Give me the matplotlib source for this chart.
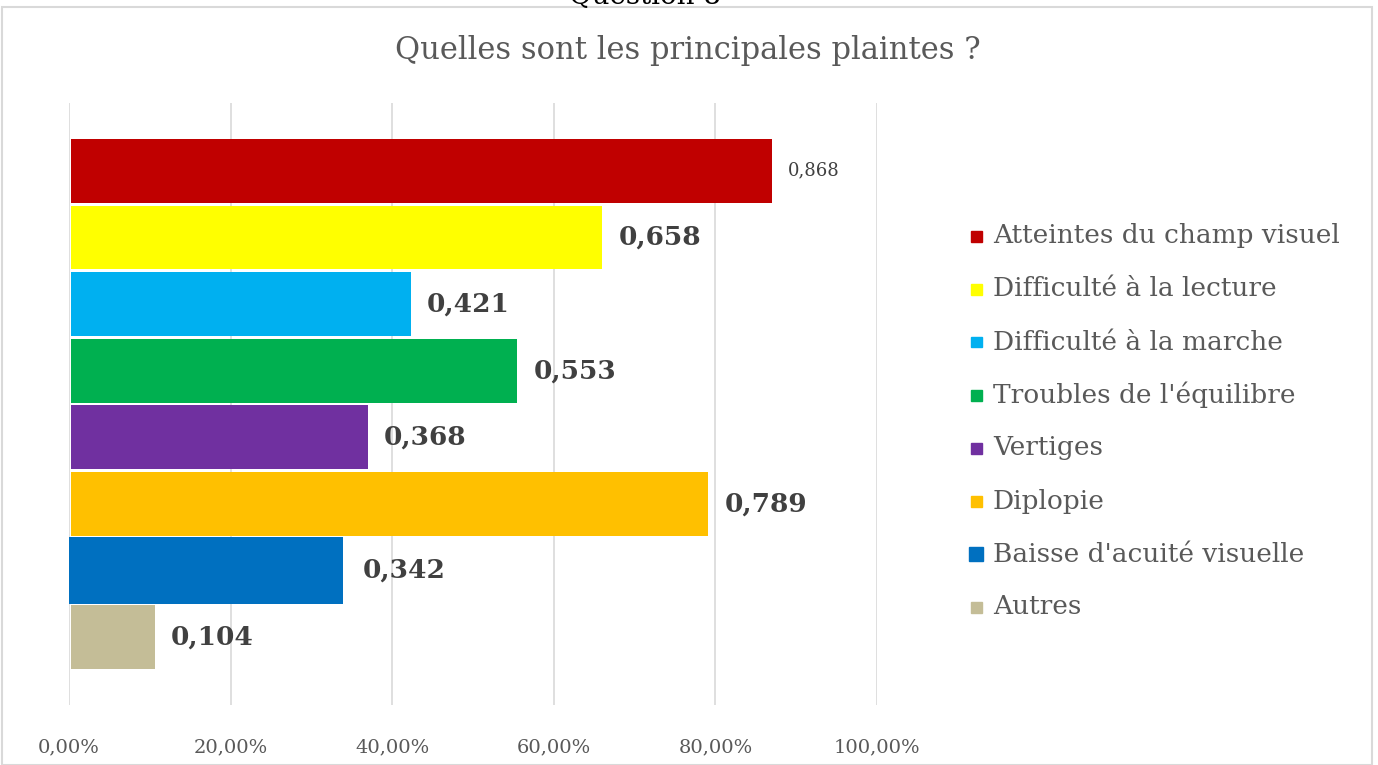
import matplotlib
matplotlib.use("Agg")
import matplotlib.pyplot as plt
from matplotlib.patches import Rectangle

categories = ["Atteintes du champ visuel", "Difficulté à la lecture", "Difficulté à la marche",
              "Troubles de l'équilibre", "Vertiges", "Diplopie", "Baisse d'acuité visuelle", "Autres"]
values = [0.868, 0.658, 0.421, 0.553, 0.368, 0.789, 0.342, 0.104]
labels = ["0,868", "0,658", "0,421", "0,553", "0,368", "0,789", "0,342", "0,104"]
colors = ["#C00000", "#FFFF00", "#00B0F0", "#00B050", "#7030A0", "#FFC000", "#0070C0", "#C4BD97"]
xticks = [0, 0.2, 0.4, 0.6, 0.8, 1.0]
xticklabels = ["0,00%", "20,00%", "40,00%", "60,00%", "80,00%", "100,00%"]

plt.rcParams['font.family'] = ['DejaVu Serif']
W, H = 1378, 765
fig = plt.figure(figsize=(W/100, H/100), dpi=100)

# outer chart frame
fig.patches.append(Rectangle((2/W, 0), (1372-2)/W, (H-7)/H, transform=fig.transFigure,
                             fill=False, edgecolor="#D9D9D9", lw=1.5))
fig.text(645/W, 1 - 4/H, "Question 8", ha="center", va="baseline", fontsize=20, color="black")

ax = fig.add_axes([69/W, 1-705/H, (877-69)/W, (705-103)/H])
n = len(values)
ys = [n - 1 - i for i in range(n)]
height = 0.955
for i, (v, c) in enumerate(zip(values, colors)):
    h = height * (1.04 if i == 6 else 1.0)
    ax.barh(ys[i], v, height=h, color=c, left=(-0.003 if i == 6 else 0.002), zorder=3)
    if i == 0:
        ax.text(v + 0.022, ys[i], labels[i], va="center", ha="left", fontsize=13, color="#404040")
    else:
        ax.text(v + 0.022, ys[i], labels[i], va="center", ha="left", fontsize=19,
                fontweight="bold", color="#404040")

pad = (602 - 533) / 2 / 66.6
ax.set_ylim(-0.5 - pad, n - 0.5 + pad)
ax.set_xlim(0, 1.0)
ax.set_xticks(xticks)
ax.set_xticklabels(xticklabels, fontsize=14, color="#595959")
ax.set_yticks([])
ax.grid(axis="x", color="#D9D9D9", lw=1.2, zorder=0)
ax.tick_params(axis="x", length=0, pad=24)
for s in ax.spines.values():
    s.set_visible(False)

fig.text(688/W, 1-50/H, "Quelles sont les principales plaintes ?", ha="center", va="center",
         fontsize=22, color="#595959")

# legend
ly0, dy = 236, 53
for i, (cat, c) in enumerate(zip(categories, colors)):
    y = 1 - (ly0 + i * dy) / H
    sz = 14 if i == 6 else 11
    cx = 976
    fig.patches.append(Rectangle(((cx - sz/2)/W, y - (sz/2)/H), sz/W, sz/H,
                                 transform=fig.transFigure, color=c))
    fig.text(993/W, y, cat, ha="left", va="center", fontsize=19, color="#595959")

fig.savefig("out.png", dpi=100)
